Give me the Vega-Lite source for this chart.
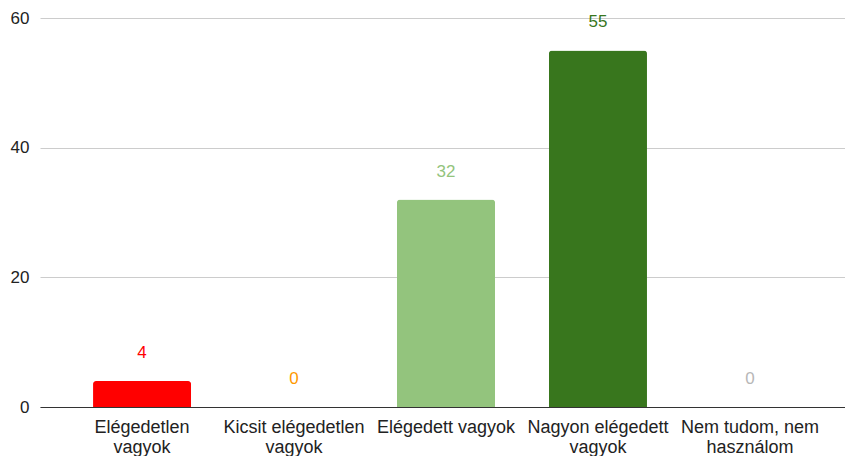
{
  "$schema": "https://vega.github.io/schema/vega-lite/v6.json",
  "width": 812,
  "height": 389,
  "autosize": {"type": "none"},
  "padding": {"left": 40, "top": 18, "right": 0, "bottom": 49},
  "background": "white",
  "config": {"view": {"stroke": null}, "font": "Liberation Sans"},
  "data": {"values": [
    {"cat": "Elégedetlen vagyok", "value": 4, "color": "#ff0000"},
    {"cat": "Kicsit elégedetlen vagyok", "value": 0, "color": "#ff9900"},
    {"cat": "Elégedett vagyok", "value": 32, "color": "#93c47d"},
    {"cat": "Nagyon elégedett vagyok", "value": 55, "color": "#38761d"},
    {"cat": "Nem tudom, nem használom", "value": 0, "color": "#b7b7b7"}
  ]},
  "encoding": {
    "x": {"field": "cat", "type": "nominal", "sort": null,
      "scale": {"paddingInner": 0.355, "paddingOuter": 0.349},
      "axis": {"title": null, "labelAngle": 0, "ticks": false, "domain": true, "domainColor": "#333333", "domainWidth": 1,
        "labelFontSize": 18, "labelColor": "#222222", "labelPadding": 11, "labelLineHeight": 20, "labelLimit": 300,
        "labelExpr": "datum.value == 'Elégedett vagyok' ? datum.value : [slice(datum.value, 0, lastindexof(datum.value, ' ')), slice(datum.value, lastindexof(datum.value, ' ') + 1)]"}},
    "y": {"field": "value", "type": "quantitative",
      "scale": {"domain": [0, 60], "nice": false},
      "axis": {"title": null, "values": [0, 20, 40, 60], "ticks": false, "domain": false, "gridColor": "#cccccc", "gridWidth": 1,
        "labelFontSize": 17, "labelColor": "#222222", "labelPadding": 11}}
  },
  "layer": [
    {"mark": {"type": "bar", "cornerRadiusTopLeft": 3, "cornerRadiusTopRight": 3},
     "encoding": {"color": {"field": "color", "type": "nominal", "scale": null}}},
    {"mark": {"type": "text", "baseline": "middle", "dy": -28, "fontSize": 17},
     "encoding": {"text": {"field": "value", "type": "quantitative"}, "color": {"field": "color", "type": "nominal", "scale": null}}}
  ]
}
